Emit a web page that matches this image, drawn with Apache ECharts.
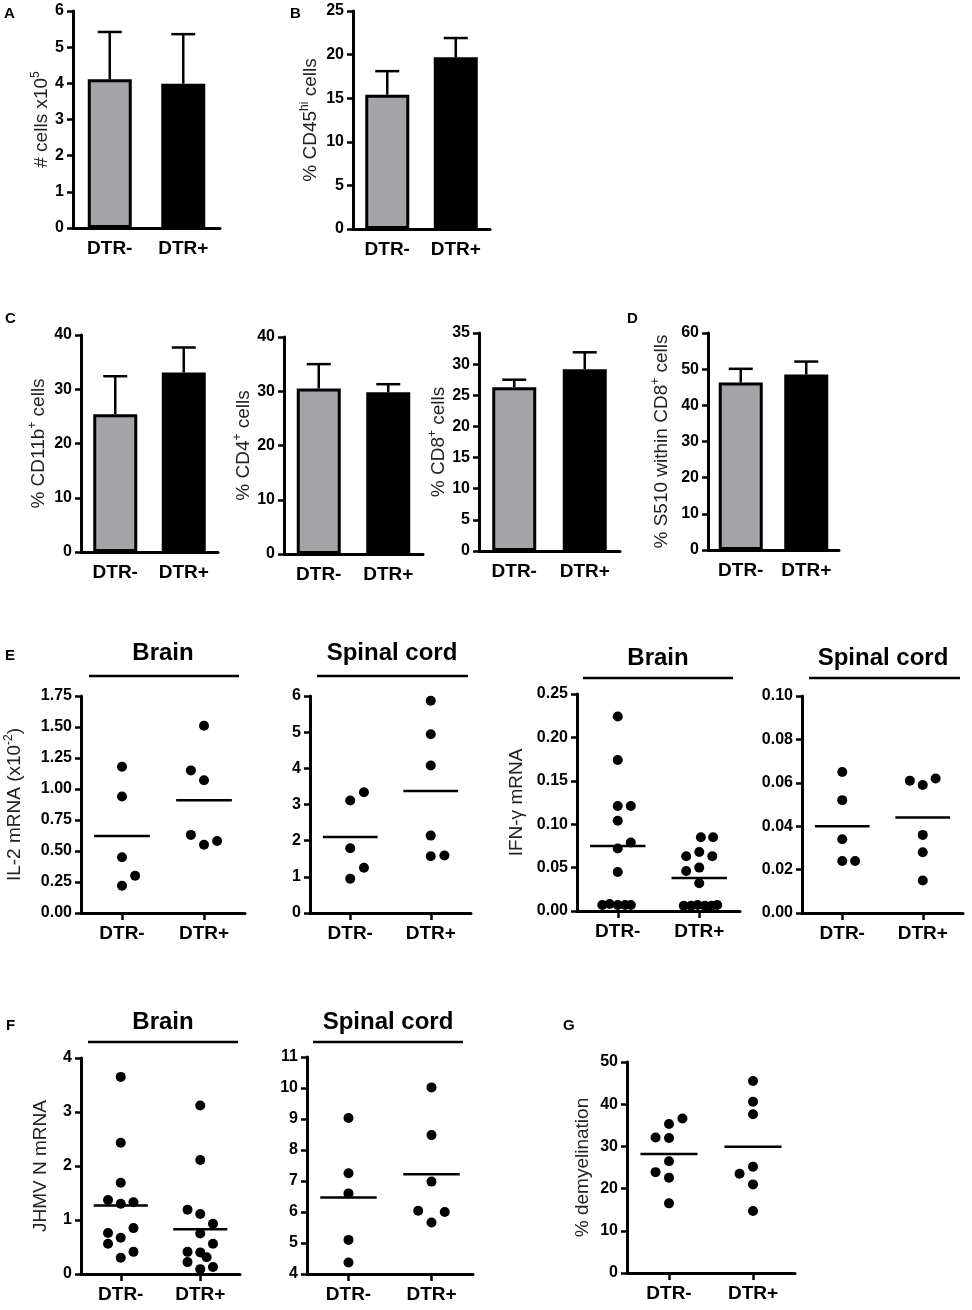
<!DOCTYPE html>
<html>
<head>
<meta charset="utf-8">
<title>DTR- vs DTR+</title>
<script src="https://cdn.jsdelivr.net/npm/echarts@6.0.0/dist/echarts.min.js"></script>
</head>
<body style="margin:0;background:#fff">
<div id="container" style="width:972px;height:1310px"></div>
<script>
var groups = ['DTR-', 'DTR+'];

// A-D: bar height (mean) and top of the error bar
var cellsMean = [4.11, 3.99], cellsTop = [5.42, 5.36];
var cd45Mean = [15.4, 19.7], cd45Top = [18.1, 21.9];
var cd11bMean = [25.4, 33.1], cd11bTop = [32.4, 37.7];
var cd4Mean = [30.5, 29.8], cd4Top = [35.0, 31.3];
var cd8Mean = [26.3, 29.2], cd8Top = [27.5, 31.9];
var s510Mean = [46.3, 48.5], s510Top = [50.1, 52.1];

// E-G: one dot per animal; *Dx = sideways spread of overlapping dots (group units)
var il2BrainNeg = [1.18, 0.94, 0.45, 0.30, 0.22];
var il2BrainNegDx = [0, 0, 0, 0.16, 0];
var il2BrainPos = [1.51, 1.15, 1.07, 0.63, 0.55, 0.58];
var il2BrainPosDx = [0, -0.16, 0, -0.16, 0, 0.16];
var il2BrainMean = [0.62, 0.91];

var il2CordNeg = [3.11, 3.34, 1.79, 1.25, 0.95];
var il2CordNegDx = [0, 0.17, 0, 0.17, 0];
var il2CordPos = [5.87, 4.94, 4.08, 2.14, 1.57, 1.59];
var il2CordPosDx = [0, 0, 0, 0, 0, 0.17];
var il2CordMean = [2.10, 3.37];

var ifnBrainNeg = [0.224, 0.174, 0.121, 0.121, 0.104, 0.079, 0.072, 0.045, 0.007, 0.008, 0.007, 0.007, 0.007];
var ifnBrainNegDx = [0, 0, 0, 0.16, 0, 0.16, 0, 0, -0.19, -0.1, 0, 0.09, 0.16];
var ifnBrainPos = [0.085, 0.085, 0.068, 0.063, 0.063, 0.050, 0.046, 0.032, 0.006, 0.006, 0.007, 0.006, 0.006, 0.007];
var ifnBrainPosDx = [0.02, 0.17, 0, -0.16, 0.16, 0, -0.16, 0, -0.19, -0.1, -0.02, 0.07, 0.15, 0.22];
var ifnBrainMean = [0.075, 0.038];

var ifnCordNeg = [0.065, 0.052, 0.034, 0.024, 0.024];
var ifnCordNegDx = [0, 0, 0, 0, 0.16];
var ifnCordPos = [0.061, 0.059, 0.062, 0.036, 0.028, 0.015];
var ifnCordPosDx = [-0.16, 0, 0.16, 0, 0, 0];
var ifnCordMean = [0.040, 0.044];

var nBrainNeg = [3.65, 2.43, 1.69, 1.37, 1.30, 1.33, 0.85, 0.76, 0.67, 0.56, 0.41, 0.30];
var nBrainNegDx = [0, 0, 0, -0.16, 0, 0.16, 0.16, -0.16, 0, -0.16, 0.16, 0];
var nBrainPos = [3.12, 2.11, 1.19, 1.11, 0.93, 0.75, 0.56, 0.41, 0.40, 0.31, 0.22, 0.09, 0.13];
var nBrainPosDx = [0, 0, -0.16, 0, 0.16, 0, 0.16, -0.16, 0, 0.08, -0.16, 0, 0.16];
var nBrainMean = [1.27, 0.83];

var nCordNeg = [9.03, 7.25, 6.6, 5.1, 4.37];
var nCordNegDx = [0, 0, 0, 0, 0];
var nCordPos = [10.02, 8.48, 6.98, 6.04, 6.0, 5.66];
var nCordPosDx = [0, 0, 0, -0.16, 0.16, 0];
var nCordMean = [6.47, 7.22];

var demyNeg = [36.6, 35.3, 32.1, 32.0, 26.5, 23.9, 22.6, 16.5];
var demyNegDx = [0.16, 0, -0.16, 0, 0, -0.16, 0, 0];
var demyPos = [45.5, 40.6, 37.6, 25.2, 23.5, 21.0, 14.7];
var demyPosDx = [0, 0, 0, 0, -0.16, 0, 0];
var demyMean = [28.2, 29.9];

var FONT = 'Liberation Sans, Arial, sans-serif';
var GREY = '#a3a3a8';

var dom = document.getElementById('container');
var myChart = echarts.init(dom, null, {renderer: 'canvas'});

function dots(vals, dx, g) {
    return vals.map(function (v, k) { return [g + dx[k], v]; });
}

function errRender(params, api) {
    var x = api.value(0);
    var p0 = api.coord([x, api.value(1)]);
    var p1 = api.coord([x, api.value(2)]);
    var st = {stroke: '#000', lineWidth: 2.5};
    return {type: 'group', children: [
        {type: 'line', shape: {x1: p0[0], y1: p0[1], x2: p1[0], y2: p1[1]}, style: st},
        {type: 'line', shape: {x1: p1[0] - 12, y1: p1[1], x2: p1[0] + 12, y2: p1[1]}, style: st}
    ]};
}

function meanRender(params, api) {
    var x = api.value(0), m = api.value(1);
    var a = api.coord([x - 0.34, m]), b = api.coord([x + 0.34, m]);
    return {type: 'line', shape: {x1: a[0], y1: a[1], x2: b[0], y2: b[1]},
        style: {stroke: '#000', lineWidth: 2.5}};
}

// [grid left, top, width, height], y range, y name, name gap
var panels = [
    {rect: [73, 11, 147, 217], min: 0, max: 6, step: 1, name: '{n|# cells x10}{s|5}', gap: 18, bar: [cellsMean, cellsTop]},
    {rect: [353, 11, 137, 218], min: 0, max: 25, step: 5, name: '{n|% CD45}{s|hi}{n| cells}', gap: 30, bar: [cd45Mean, cd45Top]},
    {rect: [81, 335, 137, 217], min: 0, max: 40, step: 10, name: '{n|% CD11b}{s|+}{n| cells}', gap: 30, bar: [cd11bMean, cd11bTop]},
    {rect: [284, 337, 139, 217], min: 0, max: 40, step: 10, name: '{n|% CD4}{s|+}{n| cells}', gap: 23, bar: [cd4Mean, cd4Top]},
    {rect: [479, 333, 141, 218], min: 0, max: 35, step: 5, name: '{n|% CD8}{s|+}{n| cells}', gap: 20, bar: [cd8Mean, cd8Top]},
    {rect: [708, 333, 131, 217], min: 0, max: 60, step: 10, name: '{n|% S510 within CD8}{s|+}{n| cells}', gap: 34, bar: [s510Mean, s510Top]},
    {rect: [81, 696, 164, 217], min: 0, max: 1.75, step: 0.25, dec: 2, name: '{n|IL-2 mRNA (x10}{s|-2}{n|)}', gap: 54,
        dot: [dots(il2BrainNeg, il2BrainNegDx, 0), dots(il2BrainPos, il2BrainPosDx, 1), il2BrainMean]},
    {rect: [310, 696, 161, 217], min: 0, max: 6, step: 1,
        dot: [dots(il2CordNeg, il2CordNegDx, 0), dots(il2CordPos, il2CordPosDx, 1), il2CordMean]},
    {rect: [577, 694, 163, 217], min: 0, max: 0.25, step: 0.05, dec: 2, name: '{n|IFN-γ mRNA}', gap: 48,
        dot: [dots(ifnBrainNeg, ifnBrainNegDx, 0), dots(ifnBrainPos, ifnBrainPosDx, 1), ifnBrainMean]},
    {rect: [802, 696, 161, 217], min: 0, max: 0.1, step: 0.02, dec: 2,
        dot: [dots(ifnCordNeg, ifnCordNegDx, 0), dots(ifnCordPos, ifnCordPosDx, 1), ifnCordMean]},
    {rect: [81, 1058, 159, 216], min: 0, max: 4, step: 1, name: '{n|JHMV N mRNA}', gap: 28,
        dot: [dots(nBrainNeg, nBrainNegDx, 0), dots(nBrainPos, nBrainPosDx, 1), nBrainMean]},
    {rect: [307, 1057, 166, 217], min: 4, max: 11, step: 1,
        dot: [dots(nCordNeg, nCordNegDx, 0), dots(nCordPos, nCordPosDx, 1), nCordMean]},
    {rect: [627, 1062, 168, 211], min: 0, max: 50, step: 10, name: '{n|% demyelination}', gap: 32,
        dot: [dots(demyNeg, demyNegDx, 0), dots(demyPos, demyPosDx, 1), demyMean]}
];

var axisLine = {show: true, onZero: false, lineStyle: {color: '#000', width: 3}};
var tickStyle = {color: '#000', width: 2.5};

var grid = [], xAxis = [], yAxis = [], series = [];

panels.forEach(function (p, i) {
    grid.push({left: p.rect[0], top: p.rect[1], width: p.rect[2], height: p.rect[3],
        containLabel: false, outerBoundsMode: 'none'});

    var xLabel = {color: '#000', fontFamily: FONT, fontWeight: 'bold', fontSize: 19, margin: 11};
    if (p.bar) {
        xAxis.push({gridIndex: i, type: 'category', data: groups,
            axisLine: axisLine, splitLine: {show: false},
            axisTick: {alignWithLabel: true, length: 7, lineStyle: tickStyle},
            axisLabel: xLabel});
    } else {
        xLabel.customValues = [0, 1];
        xLabel.formatter = function (v) { return groups[Math.round(v)]; };
        xAxis.push({gridIndex: i, type: 'value', min: -0.5, max: 1.5,
            axisLine: axisLine, splitLine: {show: false},
            axisTick: {customValues: [0, 1], length: 7, lineStyle: tickStyle},
            axisLabel: xLabel});
    }

    yAxis.push({gridIndex: i, type: 'value', min: p.min, max: p.max, interval: p.step,
        axisLine: axisLine, splitLine: {show: false},
        axisTick: {show: true, length: 6, lineStyle: tickStyle},
        axisLabel: {color: '#000', fontFamily: FONT, fontWeight: 'bold', fontSize: 16, margin: 9,
            formatter: p.dec ? function (v) { return v.toFixed(p.dec); } : '{value}'},
        name: p.name || '', nameLocation: 'middle', nameRotate: 90, nameGap: p.gap || 0,
        nameTextStyle: {color: '#222', fontFamily: FONT, fontSize: 19,
            rich: {
                n: {fontFamily: FONT, fontSize: 19, color: '#222', lineHeight: 24},
                s: {fontFamily: FONT, fontSize: 12, color: '#222', verticalAlign: 'top'}
            }}});

    if (p.bar) {
        series.push({type: 'custom', xAxisIndex: i, yAxisIndex: i, z: 1,
            renderItem: errRender,
            data: [[0, p.bar[0][0], p.bar[1][0]], [1, p.bar[0][1], p.bar[1][1]]]});
        series.push({type: 'bar', xAxisIndex: i, yAxisIndex: i, z: 2, barWidth: 44,
            itemStyle: {borderColor: '#000', borderWidth: 3},
            data: [{value: p.bar[0][0], itemStyle: {color: GREY}},
                   {value: p.bar[0][1], itemStyle: {color: '#000'}}]});
    } else {
        series.push({type: 'scatter', xAxisIndex: i, yAxisIndex: i, symbolSize: 10,
            itemStyle: {color: '#000', opacity: 1}, data: p.dot[0].concat(p.dot[1])});
        series.push({type: 'custom', xAxisIndex: i, yAxisIndex: i,
            renderItem: meanRender,
            data: [[0, p.dot[2][0]], [1, p.dot[2][1]]]});
    }
});

// panel letters, tissue headers and the rules under them
var graphic = [];
[['A', 4, 6], ['B', 290, 6], ['C', 5, 311], ['D', 627, 311],
 ['E', 5, 648], ['F', 6, 1018], ['G', 563, 1018]].forEach(function (l) {
    graphic.push({type: 'text', left: l[1], top: l[2],
        style: {text: l[0], fontFamily: FONT, fontWeight: 'bold', fontSize: 15, fill: '#000'}});
});
[['Brain', 163, 653, 89, 239, 676], ['Spinal cord', 392, 653, 317, 468, 676],
 ['Brain', 658, 658, 583, 733, 678], ['Spinal cord', 883, 658, 809, 960, 678],
 ['Brain', 163, 1022, 88, 238, 1042], ['Spinal cord', 388, 1022, 313, 463, 1042]].forEach(function (h) {
    graphic.push({type: 'text', x: h[1], y: h[2],
        style: {text: h[0], fontFamily: FONT, fontWeight: 'bold', fontSize: 24, fill: '#000',
            align: 'center', verticalAlign: 'middle'}});
    graphic.push({type: 'line', shape: {x1: h[3], y1: h[5], x2: h[4], y2: h[5]},
        style: {stroke: '#000', lineWidth: 2.5}});
});

var option = {
    backgroundColor: '#fff',
    animation: false,
    grid: grid,
    xAxis: xAxis,
    yAxis: yAxis,
    series: series,
    graphic: graphic
};
myChart.setOption(option);
</script>
</body>
</html>
